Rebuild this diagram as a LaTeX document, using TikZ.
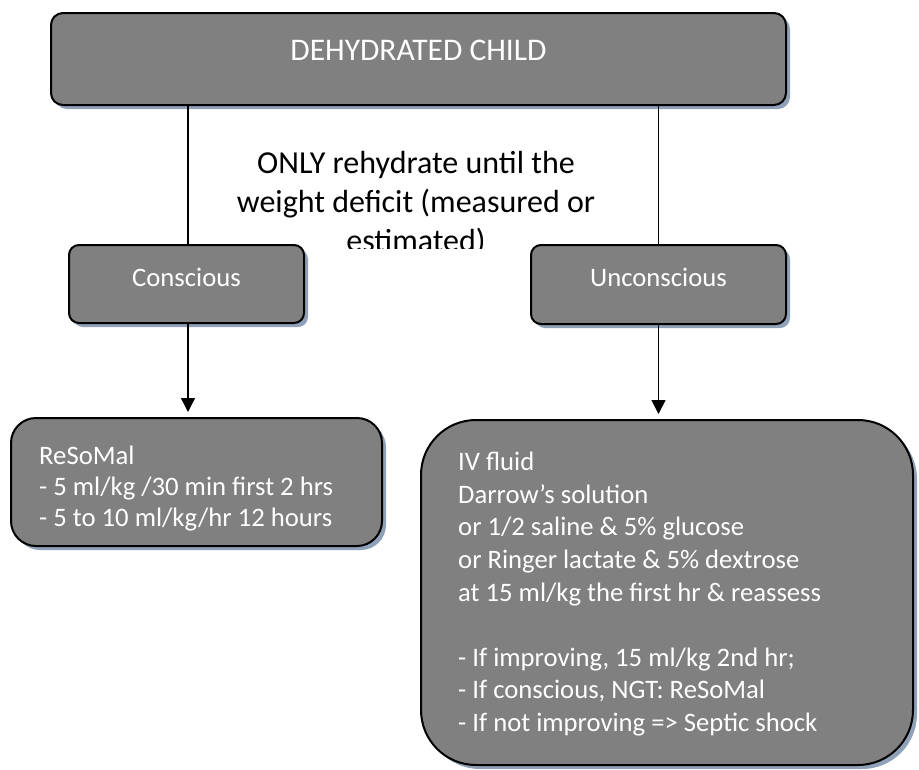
\documentclass[tikz,border=0pt]{standalone}
\usepackage{fontspec}
\setmainfont{Carlito}
\usetikzlibrary{arrows.meta,shadows}
\definecolor{boxgray}{RGB}{128,128,128}
\definecolor{shadowc}{RGB}{143,161,184}
\tikzset{
  box/.style={draw=black, line width=2pt, fill=boxgray, inner sep=0pt, outer sep=0pt,
    drop shadow={shadow xshift=4pt, shadow yshift=-4pt, fill=shadowc, draw=none, opacity=1}},
  boxtxt/.style={text=white, inner sep=0pt, font=\fontsize{26.67}{32.6}\selectfont},
  conn/.style={draw=black, line width=1.6pt},
  arr/.style={conn, -{Triangle[width=14pt,length=14pt]}, shorten >=6pt},
}
\begin{document}
\begin{tikzpicture}[x=1pt,y=-1pt]
\useasboundingbox (0,0) rectangle (919,769);
\fill[white] (0,0) rectangle (919,769);
% boxes
\node[box, rounded corners=12pt, minimum width=735pt, minimum height=92pt] (top) at (418.5,59) {};
\node[box, rounded corners=10pt, minimum width=235pt, minimum height=78pt] (cons) at (186.5,284) {};
\node[box, rounded corners=10pt, minimum width=255pt, minimum height=79pt] (uncons) at (658.5,284.5) {};
\node[box, rounded corners=25pt, minimum width=371pt, minimum height=128pt] (reso) at (196.5,482) {};
\node[box, rounded corners=55pt, minimum width=492pt, minimum height=345pt] (iv) at (667,592.5) {};
% texts
\node[boxtxt, font=\fontsize{31.5}{38}\selectfont] (topt) at ([yshift=9pt]top.center) {DEHYDRATED CHILD};
\node[boxtxt] (const) at ([yshift=7pt]cons.center) {Conscious};
\node[boxtxt] (unconst) at ([yshift=7pt]uncons.center) {Unconscious};
\node[boxtxt, anchor=north west, align=left, font=\fontsize{26.67}{31}\selectfont] (resot) at (39,446) {ReSoMal\\- 5 ml/kg /30 min first 2 hrs\\- 5 to 10 ml/kg/hr 12 hours};
\node[boxtxt, anchor=north west, align=left] (ivt) at (458,452) {IV fluid\\Darrow’s solution\\or 1/2 saline \& 5\% glucose\\or Ringer lactate \& 5\% dextrose\\at 15 ml/kg the first hr \& reassess\\ \mbox{}\\- If improving, 15 ml/kg 2nd hr;\\- If conscious, NGT: ReSoMal\\- If not improving => Septic shock};
% middle note, clipped at the bottom
\begin{scope}
\clip (200,120) rectangle (640,248);
\node[inner sep=0pt, anchor=north, align=center, font=\fontsize{32}{39}\selectfont] (note) at (416,151) {ONLY rehydrate until the\\weight deficit (measured or\\estimated)};
\end{scope}
% connectors
\draw[conn] (top.south -| 188,0) -- (cons.north -| 188,0);
\draw[conn] (top.south -| uncons.north) -- (uncons.north);
\draw[arr] (cons.south -| 188,0) -- (reso.north -| 188,0);
\draw[arr] (uncons.south) -- (iv.north -| uncons.south);
\end{tikzpicture}
\end{document}
